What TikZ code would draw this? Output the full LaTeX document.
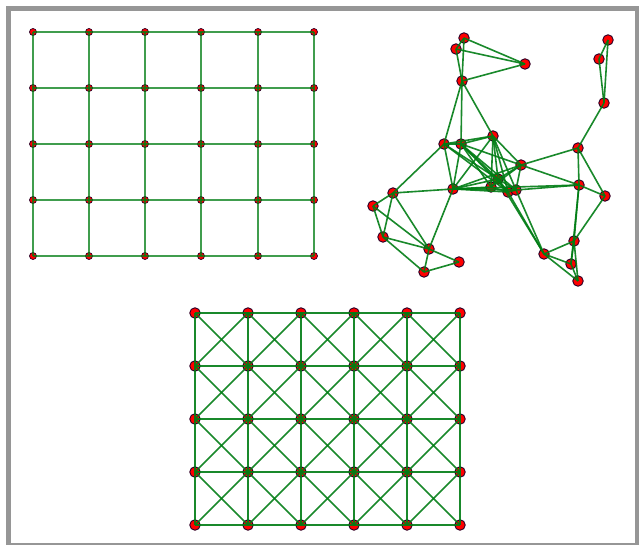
\documentclass[tikz,border=0pt]{standalone}
\usetikzlibrary{calc}
\definecolor{edgegreen}{RGB}{0,125,20}
\definecolor{framegray}{RGB}{150,150,150}
\definecolor{vtxline}{RGB}{40,0,40}
\begin{document}
\begin{tikzpicture}[x=1pt,y=-1pt,
  smallvtx/.style={circle,fill=red,draw=vtxline,line width=0.7pt,inner sep=0pt,minimum size=7pt},
  bigvtx/.style={circle,fill=red,draw=vtxline,line width=0.9pt,inner sep=0pt,minimum size=10.5pt},
  thinedge/.style={draw=edgegreen,line width=1.2pt,opacity=0.75},
  thickedge/.style={draw=edgegreen,line width=1.6pt,opacity=0.9}]
\useasboundingbox (0,0) rectangle (639,545);
\fill[white] (0,0) rectangle (639,545);
\fill[framegray] (6,6) rectangle (639,545);
\fill[white] (11,11) rectangle (635,543);

% ---------- grid graph (top left) ----------
\foreach \i/\x in {0/33,1/89,2/145,3/201,4/258,5/314}
  \foreach \j/\y in {0/32,1/88,2/144,3/200,4/256}
    \node[smallvtx] (g\i\j) at (\x,\y) {};
\foreach \i in {0,...,5}
  \foreach \j [count=\jn] in {0,...,3}
    \draw[thinedge] (g\i\j.center) -- (g\i\jn.center);
\foreach \i [count=\in] in {0,...,4}
  \foreach \j in {0,...,4}
    \draw[thinedge] (g\i\j.center) -- (g\in\j.center);

% ---------- king graph (bottom) ----------
\foreach \i/\x in {0/195,1/248,2/301,3/354,4/407,5/460}
  \foreach \j/\y in {0/313,1/366,2/419,3/472,4/525}
    \node[bigvtx] (k\i\j) at (\x,\y) {};
\foreach \i in {0,...,5}
  \foreach \j [count=\jn] in {0,...,3}
    \draw[thickedge] (k\i\j.center) -- (k\i\jn.center);
\foreach \i [count=\in] in {0,...,4}
  \foreach \j in {0,...,4}
    \draw[thickedge] (k\i\j.center) -- (k\in\j.center);
\foreach \i [count=\in] in {0,...,4}
  \foreach \j [count=\jn] in {0,...,3}
    {\draw[thickedge] (k\i\j.center) -- (k\in\jn.center);
     \draw[thickedge] (k\in\j.center) -- (k\i\jn.center);}

% ---------- random graph (top right) ----------
\foreach \n/\x/\y in {r1/464/38,r2/456/49,r3/525/64,r4/462/81,
  r5/608/40,r6/599/59,r7/604/103,
  rA/444/144,rB/461/144,rC/493/136,rD/521/165,rE/498/179,rF/491/187,
  rG/508/192,rH/516/190,rI/453/189,
  r12/578/148,r13/579/185,r14/605/196,
  r19/393/193,r20/373/206,r21/383/237,r22/429/249,r23/459/262,r24/424/272,
  r25/544/254,r26/574/241,r27/571/264,r28/578/281}
  \node[bigvtx] (\n) at (\x,\y) {};
\foreach \a/\b in {r1/r2,r1/r3,r2/r3,r1/r4,r2/r4,r3/r4,
  r4/rA,r4/rB,r4/rC,
  r5/r6,r5/r7,r6/r7,r7/r12,
  rA/rB,rA/rC,rA/rI,rA/r19,rA/rE,rA/rG,
  rB/rC,rB/rI,rB/rE,rB/rF,rB/rG,rB/rH,rB/rD,
  rC/rI,rC/rE,rC/rF,rC/rG,rC/rH,rC/rD,
  rD/rE,rD/rI,rD/rF,rD/rH,rD/r12,rD/r13,
  rE/rI,rE/rF,rE/rG,rE/rH,
  rF/rI,rF/rG,rG/rH,rG/rI,rH/rI,rH/r13,rI/r13,
  rI/r19,rI/r22,
  rE/r25,rG/r25,rH/r25,
  r12/r13,r12/r14,r13/r14,r13/r26,r13/r27,r14/r26,
  r25/r26,r25/r27,r25/r28,r26/r27,r26/r28,r27/r28,
  r19/r20,r19/r21,r19/r22,r20/r21,r20/r22,r21/r22,r21/r24,
  r22/r23,r22/r24,r23/r24}
  \draw[thickedge] (\a.center) -- (\b.center);
\end{tikzpicture}
\end{document}
